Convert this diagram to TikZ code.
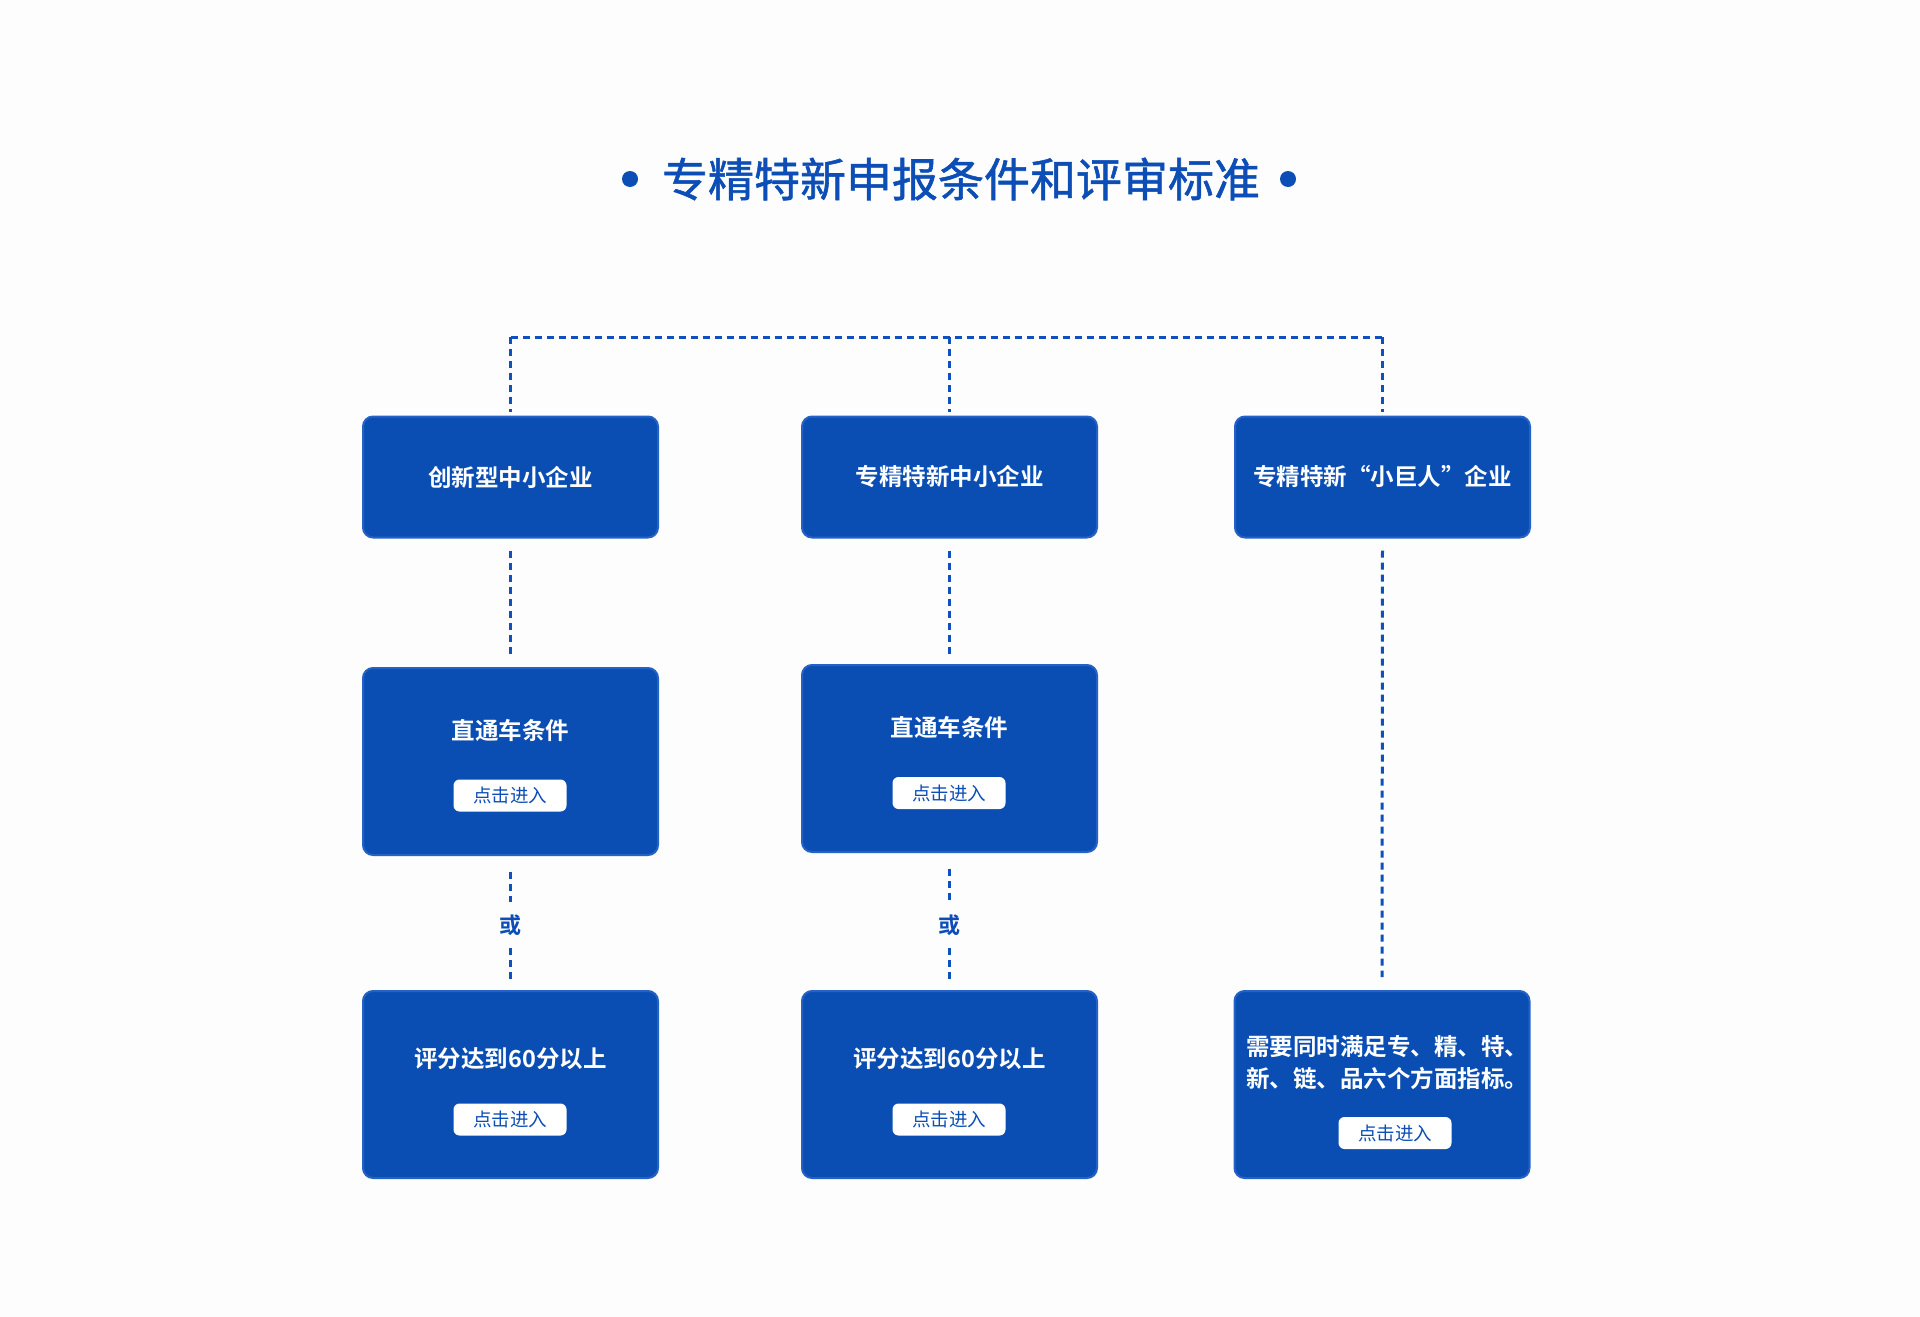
\documentclass[tikz,border=0pt]{standalone}
\usepackage{fontspec}
\newfontfamily\cjk{Noto Sans CJK SC}[BoldFont={* Bold}]
\newfontfamily\cjktitle{Noto Sans CJK SC}[FakeBold=1.2]
\definecolor{bg}{RGB}{253,253,253}
\definecolor{boxblue}{RGB}{10,78,180}
\definecolor{rimblue}{RGB}{38,98,198}
\definecolor{titleblue}{RGB}{12,78,182}
\definecolor{dashblue}{RGB}{14,80,190}
\begin{document}
\begin{tikzpicture}[x=1pt,y=-1pt,
  card/.style={draw=rimblue,line width=2pt,fill=boxblue,rounded corners=10pt,
    minimum width=295pt,inner sep=0pt},
  cardA/.style={card,minimum height=121pt},
  cardB/.style={card,minimum height=187pt},
  label/.style={text=white,inner sep=0pt,font=\cjk\bfseries\fontsize{23.5pt}{32pt}\selectfont,align=center},
  btn/.style={fill=white,rounded corners=6pt,minimum width=113pt,minimum height=32pt,inner sep=0pt,
    text=titleblue,font=\cjk\fontsize{18.5pt}{20pt}\selectfont},
  conn/.style={draw=dashblue,line width=3pt,dash pattern=on 7pt off 5pt},
  ornode/.style={inner sep=0pt,minimum height=46pt,text=titleblue,font=\cjk\bfseries\fontsize{22pt}{24pt}\selectfont},
  dot/.style={circle,fill=titleblue,minimum size=16pt,inner sep=0pt}
]
\useasboundingbox[fill=bg] (0,0) rectangle (1920,1317);

% title
\node[inner sep=0pt,text=titleblue,font=\cjktitle\fontsize{46pt}{50pt}\selectfont] (title) at (961,179) {专精特新申报条件和评审标准};
\node[dot] (dotL) at (630,179) {};
\node[dot] (dotR) at (1288,179) {};

% row 1
\node[cardA] (a1) at (510.5,477) {};
\node[cardA] (b1) at (949.5,477) {};
\node[cardA] (c1) at (1382.5,477) {};
\node[label] (a1t) at (a1.center) {创新型中小企业};
\node[label] (b1t) at (b1.center) {专精特新中小企业};
\node[label] (c1t) at (c1.center) {专精特新“小巨人”企业};

% row 2
\node[cardB] (a2) at (510.5,761.5) {};
\node[cardB] (b2) at (949.5,758.5) {};
\node[label] (a2t) at (510.5,730) {直通车条件};
\node[btn] (a2b) at (510,795.5) {点击进入};
\node[label] (b2t) at (949.5,727) {直通车条件};
\node[btn] (b2b) at (949,793) {点击进入};

% or labels
\node[ornode] (ora) at (510.5,925) {或};
\node[ornode] (orb) at (949.5,925) {或};

% row 3
\node[cardB] (a3) at (510.5,1084.5) {};
\node[cardB] (b3) at (949.5,1084.5) {};
\node[cardB] (c3) at (1382,1084.5) {};
\node[label] (a3t) at (510.5,1059) {评分达到60分以上};
\node[btn] (a3b) at (510,1119.5) {点击进入};
\node[label] (b3t) at (949.5,1059) {评分达到60分以上};
\node[btn] (b3b) at (949,1119.5) {点击进入};
\node[label] (c3t) at (1387,1063) {需要同时满足专、精、特、\\新、链、品六个方面指标。};
\node[btn] (c3b) at (1395,1133) {点击进入};

% top connector
\coordinate (ta) at (510.5,337);
\coordinate (tb) at (949.5,337);
\coordinate (tc) at (1382.5,337);
\draw[conn] (ta) -- (tc);
\draw[conn,shorten >=4pt] (ta) -- (a1.north);
\draw[conn,shorten >=4pt] (tb) -- (b1.north);
\draw[conn,shorten >=4pt] (tc) -- (c1.north);

% vertical connectors
\draw[conn,shorten <=12pt,shorten >=10pt] (a1.south) -- (a2.north);
\draw[conn,shorten <=12pt,shorten >=10pt] (b1.south) -- (b2.north);
\draw[conn,shorten <=16pt] (a2.south) -- (ora.north);
\draw[conn,shorten >=10pt] (ora.south) -- (a3.north);
\draw[conn,shorten <=16pt] (b2.south) -- (orb.north);
\draw[conn,shorten >=10pt] (orb.south) -- (b3.north);
\draw[conn,shorten <=12pt,shorten >=13pt] (c1.south) -- (c3.north);
\end{tikzpicture}
\end{document}
